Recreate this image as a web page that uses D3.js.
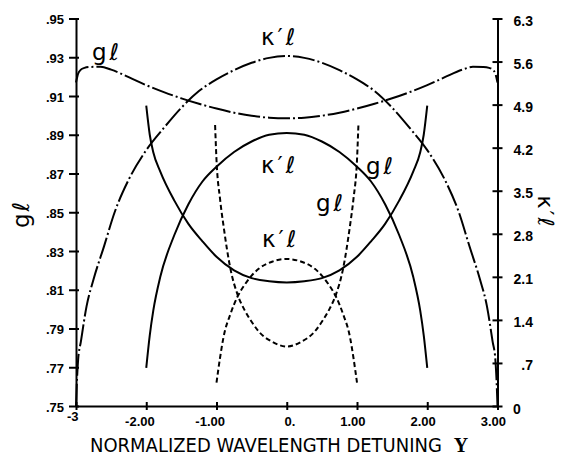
<!DOCTYPE html>
<html>
<head>
<meta charset="utf-8">
<script src="https://cdn.jsdelivr.net/npm/d3@7"></script>
<style>
  html, body { margin: 0; padding: 0; background: #fff; }
  svg { display: block; }
</style>
</head>
<body>
<div id="chart"></div>
<script>
// Normalized detuning positions and curve values (gℓ on the left axis, κ'ℓ on the right)
const detuneDashDotG = [-3, -2.97, -2.93, -2.88, -2.8, -2.65, -2.5, -2.25, -2.0, -1.75, -1.5, -1.25, -1.0, -0.75, -0.5, -0.25, 0,
                        0.25, 0.5, 0.75, 1.0, 1.25, 1.5, 1.75, 2.0, 2.25, 2.5, 2.65, 2.8, 2.88, 2.93, 2.97, 3];
const gDashDot = [0.917, 0.9215, 0.9236, 0.9245, 0.925, 0.9251, 0.9236, 0.9197, 0.9156, 0.912, 0.9088, 0.906, 0.9035, 0.9014, 0.8998, 0.8988, 0.8985,
                  0.8988, 0.8998, 0.9014, 0.9035, 0.906, 0.9088, 0.912, 0.9156, 0.9197, 0.9236, 0.9251, 0.925, 0.9245, 0.9236, 0.9215, 0.917];

const detuneDashDotK = [-3, -2.985, -2.97, -2.93, -2.85, -2.75, -2.6, -2.45, -2.25, -2.0, -1.75, -1.5, -1.25, -1.0, -0.75, -0.5, -0.25, 0,
                        0.25, 0.5, 0.75, 1.0, 1.25, 1.5, 1.75, 2.0, 2.25, 2.45, 2.6, 2.75, 2.85, 2.93, 2.97, 2.985, 3];
const kDashDot = [0, 0.45, 0.75, 1.05, 1.62, 2.06, 2.60, 3.15, 3.68, 4.16, 4.52, 4.85, 5.12, 5.31, 5.46, 5.58, 5.66, 5.69,
                  5.66, 5.58, 5.46, 5.31, 5.12, 4.85, 4.52, 4.16, 3.68, 3.15, 2.60, 2.06, 1.62, 1.05, 0.75, 0.45, 0];

const detuneSolid = [-2.0, -1.95, -1.9, -1.8, -1.6, -1.4, -1.2, -1.0, -0.75, -0.5, -0.25, 0,
                     0.25, 0.5, 0.75, 1.0, 1.2, 1.4, 1.6, 1.8, 1.9, 1.95, 2.0];
const gSolid = [0.905, 0.890, 0.881, 0.871, 0.856, 0.844, 0.835, 0.827, 0.820, 0.816, 0.8144, 0.8138,
                0.8144, 0.816, 0.820, 0.827, 0.835, 0.844, 0.856, 0.871, 0.881, 0.890, 0.905];
const kSolid = [0.62, 1.15, 1.55, 2.10, 2.78, 3.28, 3.65, 3.89, 4.13, 4.30, 4.41, 4.44,
                4.41, 4.30, 4.13, 3.89, 3.65, 3.28, 2.78, 2.10, 1.55, 1.15, 0.62];

const detuneDashedG = [-1.02, -1.0, -0.95, -0.9, -0.8, -0.7, -0.6, -0.5, -0.4, -0.2, 0,
                       0.2, 0.4, 0.5, 0.6, 0.7, 0.8, 0.9, 0.95, 1.0, 1.02];
const gDashed = [0.895, 0.877, 0.857, 0.843, 0.8205, 0.8075, 0.7995, 0.7935, 0.7885, 0.783, 0.7807,
                 0.783, 0.7885, 0.7935, 0.7995, 0.8075, 0.8205, 0.843, 0.857, 0.877, 0.895];

const detuneDashedK = [-1.0, -0.95, -0.9, -0.8, -0.7, -0.6, -0.5, -0.4, -0.2, 0,
                       0.2, 0.4, 0.5, 0.6, 0.7, 0.8, 0.9, 0.95, 1.0];
const kDashed = [0.38, 0.78, 1.12, 1.50, 1.78, 1.97, 2.12, 2.23, 2.35, 2.39,
                 2.35, 2.23, 2.12, 1.97, 1.78, 1.50, 1.12, 0.78, 0.38];

// Axis ticks
const xTicks = [-3, -2, -1, 0, 1, 2, 3];
const xTickLabels = ["-3", "-2.00", "-1.00", "0.", "1.00", "2.00", "3.00"];
const gTicks = [0.75, 0.77, 0.79, 0.81, 0.83, 0.85, 0.87, 0.89, 0.91, 0.93, 0.95];
const gTickLabels = [".75", ".77", ".79", ".81", ".83", ".85", ".87", ".89", ".91", ".93", ".95"];
const kTicks = [0, 0.7, 1.4, 2.1, 2.8, 3.5, 4.2, 4.9, 5.6, 6.3];
const kTickLabels = ["0", ".7", "1.4", "2.1", "2.8", "3.5", "4.2", "4.9", "5.6", "6.3"];

const W = 562, H = 457;
const plotLeft = 76, plotRight = 497.5, plotTop = 18.5, plotBottom = 406;

const svg = d3.select("#chart").append("svg")
  .attr("width", W).attr("height", H)
  .style("background", "#fff");

const x = d3.scaleLinear().domain([-3, 3]).range([plotLeft, plotRight]);
const yG = d3.scaleLinear().domain([0.75, 0.95]).range([plotBottom, plotTop]);
const yK = d3.scaleLinear().domain([0, 6.3]).range([plotBottom, plotTop]);

const tickFont = "'Liberation Sans', Arial, sans-serif";

// Left axis (gℓ)
const gAxis = svg.append("g").attr("transform", `translate(${plotLeft},0)`)
  .call(d3.axisLeft(yG).tickValues(gTicks).tickFormat((d, i) => gTickLabels[i]).tickSizeOuter(0));
gAxis.select(".domain").attr("stroke", "#000").attr("stroke-width", 2);
gAxis.selectAll(".tick line").attr("x1", -7).attr("x2", 3).attr("stroke", "#000").attr("stroke-width", 2);
gAxis.selectAll(".tick text").attr("x", -12).attr("dy", "0.85em").attr("y", -6)
  .attr("font-family", tickFont).attr("font-weight", "bold").attr("font-size", 13).attr("fill", "#000");

// Right axis (κ'ℓ)
const kAxis = svg.append("g").attr("transform", `translate(${plotRight},0)`)
  .call(d3.axisRight(yK).tickValues(kTicks).tickFormat((d, i) => kTickLabels[i]).tickSizeOuter(0));
kAxis.select(".domain").attr("stroke", "#000").attr("stroke-width", 2);
kAxis.selectAll(".tick line").attr("x1", -5).attr("x2", 5).attr("stroke", "#000").attr("stroke-width", 2);
kAxis.selectAll(".tick text")
  .attr("text-anchor", (d, i) => i === 0 ? "start" : "end")
  .attr("x", (d, i) => i === 0 ? 15.5 : 35.5)
  .attr("y", (d, i) => i === 0 ? -4 : -5).attr("dy", "0.85em")
  .attr("font-family", tickFont).attr("font-weight", "bold").attr("font-size", 14).attr("fill", "#000");

// Bottom axis (detuning)
const xAxis = svg.append("g").attr("transform", `translate(0,${plotBottom})`)
  .call(d3.axisBottom(x).tickValues(xTicks).tickFormat((d, i) => xTickLabels[i]).tickSizeOuter(0));
xAxis.select(".domain").attr("stroke", "#000").attr("stroke-width", 2);
xAxis.selectAll(".tick line").attr("y1", -4).attr("y2", 4).attr("stroke", "#000").attr("stroke-width", 2);
xAxis.selectAll(".tick text")
  .attr("text-anchor", "end")
  .attr("x", (d, i) => i === 0 ? 2 : 8)
  .attr("y", (d, i) => i === 0 ? 15 : 20).attr("dy", 0)
  .attr("font-family", tickFont).attr("font-weight", "bold").attr("font-size", 13).attr("fill", "#000");

// Curves
function drawCurve(xs, ys, yScale, dash) {
  const pts = xs.map((d, i) => [d, ys[i]]);
  const line = d3.line().x(d => x(d[0])).y(d => yScale(d[1])).curve(d3.curveMonotoneX);
  svg.append("path").datum(pts)
    .attr("d", line)
    .attr("fill", "none")
    .attr("stroke", "#000")
    .attr("stroke-width", 2)
    .attr("stroke-linecap", "butt")
    .attr("stroke-dasharray", dash);
}
const dashDot = "22,3,2,3";
const dashed = "5,3";
drawCurve(detuneDashDotG, gDashDot, yG, dashDot);
drawCurve(detuneDashDotK, kDashDot, yK, dashDot);
drawCurve(detuneSolid, gSolid, yG, null);
drawCurve(detuneSolid, kSolid, yK, null);
drawCurve(detuneDashedG, gDashed, yG, dashed);
drawCurve(detuneDashedK, kDashed, yK, dashed);

// Curve labels
const hand = "'DejaVu Sans', sans-serif";
const curveLabels = [
  { t: "gℓ", x: 92, y: 60 },
  { t: "κ′ℓ", x: 261, y: 45 },
  { t: "κ′ℓ", x: 261, y: 173 },
  { t: "gℓ", x: 366, y: 174 },
  { t: "gℓ", x: 316, y: 211 },
  { t: "κ′ℓ", x: 262, y: 247 }
];
svg.append("g").selectAll("text").data(curveLabels).join("text")
  .attr("x", d => d.x).attr("y", d => d.y)
  .attr("font-family", hand).attr("font-size", 23)
  .attr("letter-spacing", 3)
  .attr("fill", "#000")
  .text(d => d.t);

// Axis titles
svg.append("text")
  .attr("transform", "translate(29,214) rotate(-90)")
  .attr("text-anchor", "middle")
  .attr("font-family", hand).attr("font-size", 23)
  .attr("letter-spacing", 2)
  .attr("fill", "#000")
  .text("gℓ");

svg.append("text")
  .attr("transform", "translate(538,212) rotate(90)")
  .attr("text-anchor", "middle")
  .attr("font-family", hand).attr("font-size", 22)
  .attr("letter-spacing", 2)
  .attr("fill", "#000")
  .text("κ′ℓ");

// Bottom title, narrowed horizontally to its plotted span
const title = svg.append("text")
  .attr("font-family", hand).attr("font-size", 19.5)
  .attr("fill", "#000")
  .text("NORMALIZED WAVELENGTH DETUNING");
const natural = title.node().getComputedTextLength();
title.attr("transform", `translate(90,452) scale(${352 / natural},1)`);

svg.append("text")
  .attr("x", 461).attr("y", 452)
  .attr("text-anchor", "middle")
  .attr("font-family", "'Liberation Serif', serif").attr("font-weight", "bold").attr("font-size", 20)
  .attr("fill", "#000")
  .text("Y");
</script>
</body>
</html>
